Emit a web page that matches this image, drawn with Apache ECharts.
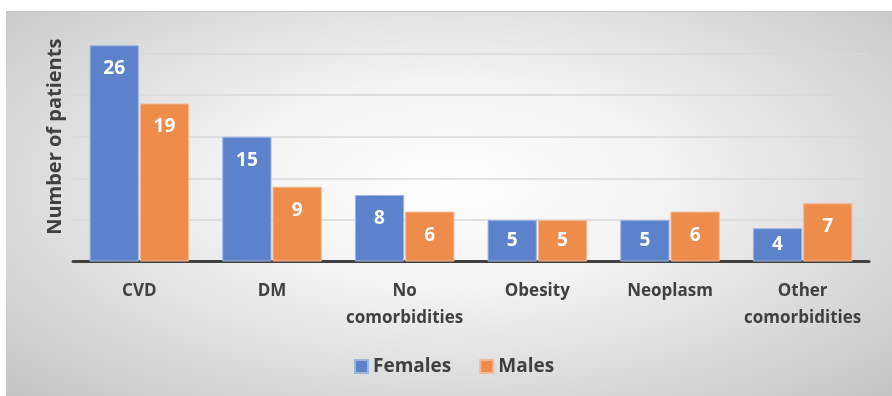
<!DOCTYPE html>
<html>
<head>
<meta charset="utf-8">
<script src="https://cdn.jsdelivr.net/npm/echarts@6/dist/echarts.min.js"></script>
<style>
    html, body { margin: 0; padding: 0; background: #fff; }
    #bg {
        position: absolute; left: 6px; top: 11px; width: 886px; height: 384px;
        border-top: 1px solid #c4c4c4;
        background: radial-gradient(ellipse at 50% 45%, #ffffff 0%, #f3f3f3 35%, #dadada 70%, #c4c4c4 100%);
    }
    #chart { position: absolute; left: 0; top: 0; width: 892px; height: 396px; }
</style>
</head>
<body>
<div id="bg"></div>
<div id="chart"></div>
<script>
    const categories = ['CVD', 'DM', 'No\ncomorbidities', 'Obesity', 'Neoplasm', 'Other\ncomorbidities'];
    const females = [26, 15, 8, 5, 5, 4];
    const males = [19, 9, 6, 5, 6, 7];

    const font = '"Open Sans", Lato, sans-serif';
    const textColor = '#404040';

    // small bars get their label centred, the rest sit near the top
    function withLabels(values) {
        return values.map(v => ({
            value: v,
            label: v <= 5 ? {position: 'inside'} : {position: 'insideTop', distance: 14}
        }));
    }

    const chart = echarts.init(document.getElementById('chart'));
    const barLabel = {
        show: true,
        color: '#fff',
        fontFamily: font,
        fontWeight: 'bold',
        fontSize: 19
    };

    chart.setOption({
        backgroundColor: 'transparent',
        animation: false,
        grid: {
            left: 73,
            right: 23,
            top: 12,
            bottom: 134.5
        },
        legend: {
            bottom: 15,
            left: 349,
            itemWidth: 13,
            itemHeight: 13,
            itemGap: 28,
            icon: 'rect',
            textStyle: {
                color: textColor,
                fontFamily: font,
                fontWeight: 'bold',
                fontSize: 19
            },
            data: ['Females', 'Males']
        },
        xAxis: {
            type: 'category',
            data: categories,
            axisLine: {lineStyle: {color: '#404040', width: 3}},
            axisTick: {show: false},
            axisLabel: {
                color: textColor,
                fontFamily: font,
                fontWeight: 'bold',
                fontSize: 17,
                lineHeight: 27,
                margin: 16,
                interval: 0
            }
        },
        yAxis: {
            type: 'value',
            min: 0,
            max: 30,
            interval: 5,
            name: 'Number of patients',
            nameLocation: 'middle',
            nameGap: 8,
            nameTextStyle: {
                color: textColor,
                fontFamily: font,
                fontWeight: 'bold',
                fontSize: 20
            },
            axisLabel: {show: false},
            axisLine: {show: false},
            axisTick: {show: false},
            splitLine: {
                showMaxLine: false,
                lineStyle: {color: '#d9d9d9', width: 1.5}
            }
        },
        series: [
            {
                name: 'Females',
                type: 'bar',
                data: withLabels(females),
                barGap: '2%',
                barCategoryGap: '25%',
                itemStyle: {color: '#5b82ca', borderColor: '#9fb5e0', borderWidth: 1},
                label: barLabel
            },
            {
                name: 'Males',
                type: 'bar',
                data: withLabels(males),
                itemStyle: {color: '#ee8c4c', borderColor: '#f6b893', borderWidth: 1},
                label: barLabel
            }
        ]
    });
</script>
</body>
</html>
